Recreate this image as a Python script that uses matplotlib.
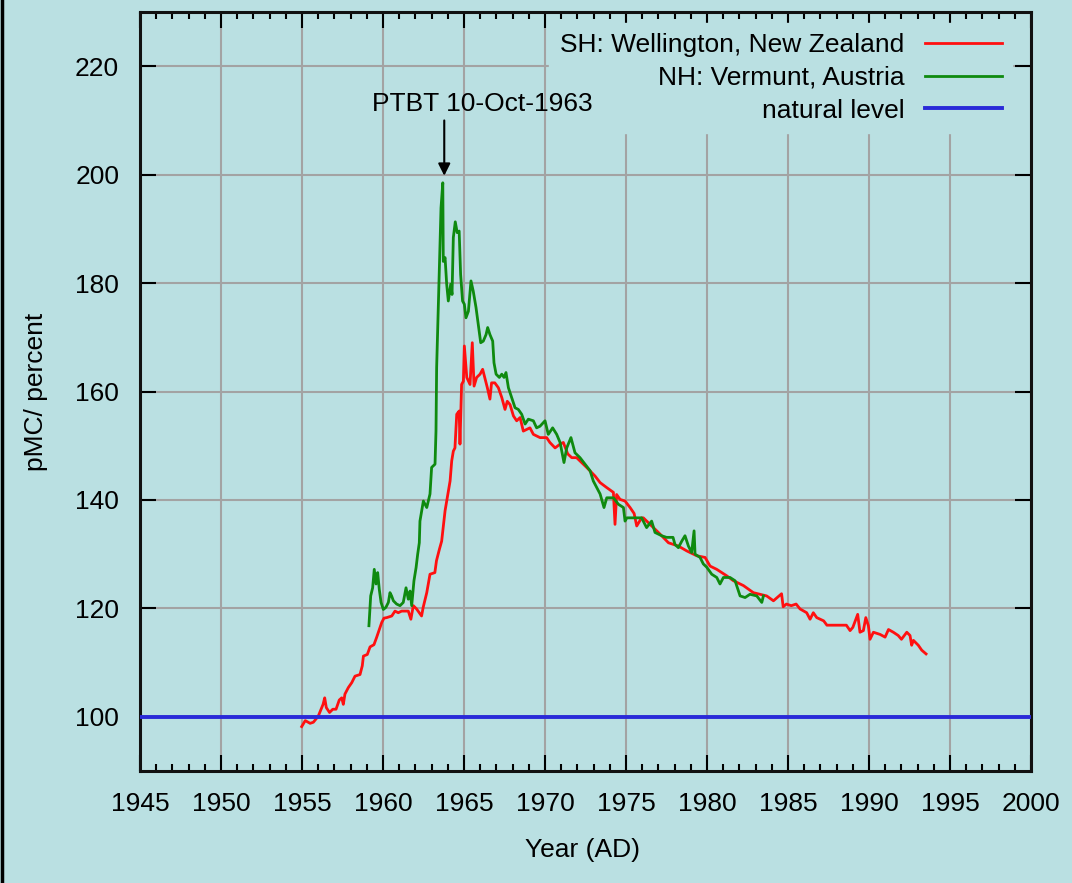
import numpy as np
import matplotlib
matplotlib.use("Agg")
import matplotlib.pyplot as plt
from matplotlib.lines import Line2D
from matplotlib.ticker import MultipleLocator

plt.rcParams['font.family'] = ['Liberation Sans', 'DejaVu Sans']

# SH: Wellington, New Zealand (year, pMC)
sh_year = [1954.98, 1955.2, 1955.5, 1955.7, 1956.0, 1956.3, 1956.4, 1956.5, 1956.7, 1956.9,
           1957.1, 1957.3, 1957.45, 1957.55, 1957.65, 1957.86, 1958.07, 1958.27, 1958.58, 1958.72,
           1958.79, 1959.03, 1959.2, 1959.44, 1959.6, 1959.77, 1959.92, 1960.06, 1960.23, 1960.54,
           1960.74, 1960.94, 1961.15, 1961.36, 1961.56, 1961.72, 1961.87, 1962.07, 1962.38, 1962.48,
           1962.6, 1962.7, 1962.9, 1963.2, 1963.3, 1963.48, 1963.62, 1963.83, 1963.93, 1964.14,
           1964.24, 1964.34, 1964.44, 1964.55, 1964.7, 1964.75, 1964.85, 1964.96, 1965.02, 1965.17,
           1965.37, 1965.51, 1965.62, 1965.78, 1965.99, 1966.15, 1966.3, 1966.44, 1966.6, 1966.7,
           1966.9, 1967.12, 1967.33, 1967.53, 1967.67, 1967.84, 1968.05, 1968.25, 1968.46, 1968.66,
           1969.07, 1969.28, 1969.69, 1970.1, 1970.3, 1970.62, 1970.93, 1971.13, 1971.4, 1971.65,
           1971.95, 1972.26, 1972.57, 1973.09, 1973.4, 1973.8, 1974.22, 1974.32, 1974.42, 1974.63,
           1974.94, 1975.25, 1975.5, 1975.66, 1975.96, 1976.07, 1976.48, 1976.68, 1977.1, 1977.62,
           1978.23, 1978.75, 1979.37, 1979.88, 1980.19, 1980.6, 1981.22, 1981.63, 1982.25, 1982.86,
           1983.27, 1983.68, 1984.1, 1984.6, 1984.7, 1984.9, 1985.2, 1985.5, 1985.74, 1986.15,
           1986.36, 1986.56, 1986.77, 1987.2, 1987.4, 1988.6, 1988.83, 1989.0, 1989.3, 1989.44,
           1989.65, 1989.8, 1989.96, 1990.06, 1990.27, 1990.68, 1990.99, 1991.2, 1991.5, 1991.8,
           1992.0, 1992.33, 1992.53, 1992.63, 1992.74, 1993.04, 1993.25, 1993.52]
sh_pmc = [98.2, 99.3, 98.8, 99.0, 100.1, 102.3, 103.5, 101.7, 100.8, 101.4,
          101.4, 103.1, 103.5, 102.3, 104.2, 105.4, 106.3, 107.5, 107.8, 109.4,
          111.2, 111.5, 112.9, 113.3, 114.6, 116.1, 117.4, 118.2, 118.3, 118.6,
          119.5, 119.2, 119.5, 119.5, 119.5, 118.0, 120.5, 119.9, 118.6, 120.2,
          121.7, 122.9, 126.3, 126.6, 128.8, 130.9, 132.4, 138.0, 139.8, 143.5,
          147.2, 149.0, 149.6, 155.8, 156.4, 150.3, 161.3, 161.9, 168.4, 162.6,
          161.3, 169.0, 161.0, 162.6, 163.2, 164.1, 162.3, 160.7, 158.6, 161.6,
          161.6, 160.7, 158.9, 156.7, 158.2, 157.6, 155.5, 154.6, 155.2, 152.7,
          153.3, 152.1, 151.5, 151.5, 150.6, 149.6, 150.3, 150.6, 148.5, 147.8,
          147.8, 146.9, 146.0, 144.4, 143.2, 142.3, 141.4, 135.5, 141.0, 140.1,
          139.8, 138.6, 137.5, 135.2, 136.7, 136.7, 135.5, 134.9, 133.7, 132.1,
          131.5, 130.6, 129.7, 129.4, 127.8, 127.2, 126.0, 125.1, 124.2, 122.9,
          122.6, 122.3, 121.4, 122.7, 120.3, 120.8, 120.5, 120.8, 119.9, 119.2,
          118.0, 119.2, 118.3, 117.7, 116.9, 116.9, 115.9, 116.5, 118.9, 115.6,
          115.9, 118.3, 116.8, 114.3, 115.6, 115.2, 114.7, 116.1, 115.6, 115.0,
          114.3, 115.6, 115.0, 113.2, 114.1, 113.2, 112.3, 111.6]

# NH: Vermunt, Austria (year, pMC)
nh_year = [1959.13, 1959.2, 1959.24, 1959.36, 1959.46, 1959.57, 1959.67, 1959.77, 1959.88, 1960.02,
           1960.18, 1960.33, 1960.43, 1960.53, 1960.64, 1960.84, 1961.05, 1961.25, 1961.42, 1961.56,
           1961.67, 1961.77, 1961.91, 1962.04, 1962.14, 1962.24, 1962.28, 1962.49, 1962.7, 1962.9,
           1963.0, 1963.21, 1963.27, 1963.31, 1963.48, 1963.58, 1963.69, 1963.72, 1963.83, 1963.93,
           1964.03, 1964.18, 1964.26, 1964.34, 1964.46, 1964.58, 1964.7, 1964.79, 1964.91, 1965.02,
           1965.12, 1965.27, 1965.43, 1965.57, 1965.74, 1965.88, 1966.03, 1966.19, 1966.36, 1966.46,
           1966.6, 1966.77, 1966.85, 1966.98, 1967.18, 1967.33, 1967.47, 1967.59, 1967.74, 1967.94,
           1968.15, 1968.35, 1968.56, 1968.77, 1968.97, 1969.28, 1969.48, 1969.69, 1970.0, 1970.2,
           1970.47, 1970.72, 1970.93, 1971.17, 1971.34, 1971.6, 1971.85, 1972.16, 1972.47, 1972.78,
           1972.98, 1973.19, 1973.4, 1973.64, 1973.81, 1974.22, 1974.53, 1974.84, 1974.94, 1975.05,
           1975.46, 1975.96, 1976.27, 1976.58, 1976.79, 1977.2, 1977.5, 1977.9, 1978.02, 1978.23,
           1978.44, 1978.64, 1978.85, 1979.05, 1979.2, 1979.26, 1979.57, 1979.77, 1979.98, 1980.29,
           1980.6, 1980.8, 1981.01, 1981.42, 1981.73, 1982.04, 1982.35, 1982.65, 1983.07, 1983.38,
           1983.48]
nh_pmc = [116.8, 120.2, 122.3, 123.8, 127.2, 124.5, 126.6, 123.5, 121.1, 119.8,
          120.2, 121.1, 122.9, 122.3, 121.4, 120.8, 120.5, 121.1, 123.8, 121.7,
          123.2, 120.5, 125.1, 127.5, 130.0, 132.1, 136.1, 139.8, 138.6, 141.1,
          146.0, 146.6, 152.7, 164.4, 183.4, 193.9, 198.5, 184.0, 184.7, 179.8,
          176.7, 179.8, 177.9, 188.4, 191.3, 189.3, 189.6, 181.6, 176.7, 176.1,
          173.6, 174.8, 180.4, 178.5, 175.5, 172.4, 169.0, 169.3, 170.5, 171.8,
          170.5, 169.3, 165.3, 163.2, 162.6, 163.2, 162.6, 163.5, 160.7, 158.9,
          157.0, 156.7, 155.8, 154.0, 154.9, 154.6, 153.3, 153.6, 154.6, 152.1,
          153.3, 152.1, 150.6, 146.9, 149.6, 151.5, 148.7, 147.8, 146.6, 145.4,
          143.5, 142.3, 141.1, 138.6, 140.4, 140.4, 139.2, 138.6, 136.1, 136.7,
          136.7, 136.7, 134.9, 136.1, 134.0, 133.4, 133.1, 133.1, 131.8, 131.2,
          132.4, 133.4, 131.5, 130.3, 134.3, 130.0, 129.4, 128.2, 127.6, 126.3,
          125.7, 124.5, 125.7, 125.7, 125.1, 122.3, 122.0, 122.6, 122.3, 121.1,
          122.3]

natural_level = 100
ptbt_year = 1963.78   # 10-Oct-1963
ptbt_label = "PTBT 10-Oct-1963"

bg = '#bae0e2'
fs = 19

fig = plt.figure(figsize=(10.72, 8.83), dpi=100, facecolor=bg)
ax = fig.add_axes([0.1306, 0.1268, 0.8312, 0.8596])
ax.set_facecolor(bg)

ax.plot(sh_year, sh_pmc, color='#ff1010', lw=2.0, label="SH: Wellington, New Zealand", zorder=3)
ax.plot(nh_year, nh_pmc, color='#0f8a0f', lw=2.0, label="NH: Vermunt, Austria", zorder=4)
ax.axhline(natural_level, color='#2a2ad8', lw=2.8, label="natural level", zorder=3)

# arrow marking the test ban treaty
ax.annotate('', xy=(ptbt_year, 199.8), xytext=(ptbt_year, 210),
            arrowprops=dict(arrowstyle='-|>', color='black', lw=1.5,
                            mutation_scale=18, shrinkA=0, shrinkB=0), zorder=7)
ax.text(1966.1, 213.0, ptbt_label, ha='center', va='center', fontsize=fs, zorder=8)

ax.set_xlim(1945, 2000)
ax.set_ylim(90, 230)
ax.set_xticks(np.arange(1945, 2001, 5))
ax.xaxis.set_minor_locator(MultipleLocator(1))
ax.set_yticks(np.arange(100, 221, 20))

ax.tick_params(which='both', direction='in', top=True, right=True, labelsize=fs, colors='black')
ax.tick_params(which='major', length=11.5, width=1.5, pad=15)
ax.tick_params(which='minor', length=5, width=1.5)
for sp in ax.spines.values():
    sp.set_linewidth(2.2)
    sp.set_color('#111111')

ax.grid(True, which='major', color='#a3a3a3', lw=1.5, zorder=0)
ax.set_axisbelow(True)

ax.set_xlabel("Year (AD)", fontsize=fs)
ax.xaxis.set_label_coords(0.4968, -0.088)
ax.set_ylabel("pMC/ percent", fontsize=fs)
ax.yaxis.set_label_coords(-0.103, 0.5)

leg = ax.legend(loc='upper right', bbox_to_anchor=(0.979, 0.986), borderaxespad=0,
                markerfirst=False, fontsize=fs, handlelength=2.9, handletextpad=0.8,
                labelspacing=0.33, frameon=True, facecolor=bg, edgecolor=bg,
                framealpha=1, fancybox=False)
leg.set_zorder(6)

# black edge on the left side of the figure
fig.add_artist(Line2D([0.0015, 0.0015], [0, 1], transform=fig.transFigure, color='black', lw=2.5))

fig.savefig("out.png", dpi=100, facecolor=bg)
